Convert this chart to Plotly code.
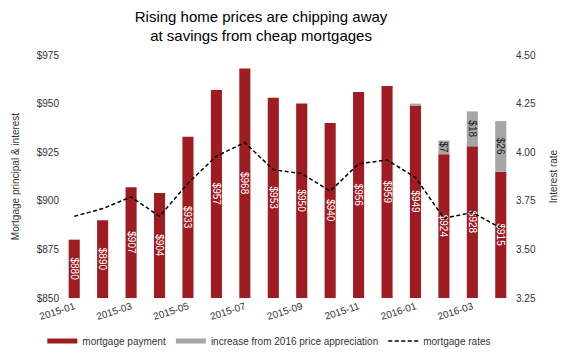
import plotly.graph_objects as go

months = ["2015-01", "2015-02", "2015-03", "2015-04", "2015-05", "2015-06", "2015-07", "2015-08",
          "2015-09", "2015-10", "2015-11", "2015-12", "2016-01", "2016-02", "2016-03", "2016-04"]
payment = [880, 890, 907, 904, 933, 957, 968, 953, 950, 940, 956, 959, 949, 924, 928, 915]
increase = [0, 0, 0, 0, 0, 0, 0, 0, 0, 0, 0, 0, 1, 7, 18, 26]
rates = [3.67, 3.71, 3.77, 3.67, 3.84, 3.98, 4.05, 3.91, 3.89, 3.80, 3.94, 3.96, 3.87, 3.66, 3.69, 3.61]
tick_labels = ["2015-01", "2015-03", "2015-05", "2015-07", "2015-09", "2015-11", "2016-01", "2016-03"]

Y_MIN, Y_MAX = 850, 975
RED = "#9f1c22"
GREY = "#a6a6a6"
FONT = "Liberation Sans, Arial, sans-serif"
DASH = "4px,2.5px"

fig = go.Figure()
fig.add_trace(go.Bar(
    x=months, y=[v - Y_MIN for v in payment], base=Y_MIN,
    marker=dict(color=RED, line=dict(width=0)),
    text=[f"${v}" for v in payment], textposition="inside", insidetextanchor="middle",
    textangle=90, textfont=dict(color="white", size=10, family=FONT),
    showlegend=False, name="mortgage payment"))
fig.add_trace(go.Bar(
    x=months, y=increase, base=payment, marker=dict(color=GREY, line=dict(width=0)),
    text=[f"${v}" if v >= 5 else "" for v in increase], textposition="inside",
    insidetextanchor="middle", textangle=90, textfont=dict(color="#222", size=10, family=FONT),
    showlegend=False, name="increase from 2016 price appreciation"))
fig.add_trace(go.Scatter(
    x=months, y=rates, mode="lines", yaxis="y2",
    line=dict(color="black", width=1.5, dash=DASH), showlegend=False, name="mortgage rates"))

# legend entries
fig.add_trace(go.Scatter(x=[None], y=[None], mode="lines", line=dict(color=RED, width=5),
                         name="mortgage payment"))
fig.add_trace(go.Scatter(x=[None], y=[None], mode="lines", line=dict(color=GREY, width=5),
                         name="increase from 2016 price appreciation"))
fig.add_trace(go.Scatter(x=[None], y=[None], mode="lines",
                         line=dict(color="black", width=1.5, dash=DASH), name="mortgage rates"))

fig.update_layout(
    width=570, height=356, barmode="overlay", bargap=0.61,
    plot_bgcolor="white", paper_bgcolor="white",
    margin=dict(l=60, r=55, t=55, b=58),
    font=dict(family=FONT, size=10, color="#333"),
    uniformtext=dict(minsize=10, mode="show"),
    title=dict(text="Rising home prices are chipping away<br>at savings from cheap mortgages",
               x=0.458, xanchor="center", y=0.939, yanchor="middle",
               font=dict(size=15, color="black", family=FONT)),
    xaxis=dict(type="category", tickvals=tick_labels, ticktext=tick_labels, tickangle=-18,
               showgrid=False, showline=False, ticks="", automargin=False,
               tickfont=dict(size=10, color="#333")),
    yaxis=dict(range=[Y_MIN, Y_MAX], tickvals=[850, 875, 900, 925, 950, 975],
               ticktext=["$850", "$875", "$900", "$925", "$950", "$975"],
               showgrid=False, zeroline=False, showline=False, ticks="", automargin=False,
               title=dict(text="Mortgage principal & interest", font=dict(size=10, color="#333"))),
    yaxis2=dict(range=[3.25, 4.5], tickvals=[3.25, 3.5, 3.75, 4.0, 4.25, 4.5],
                ticktext=["3.25", "3.50", "3.75", "4.00", "4.25", "4.50"],
                overlaying="y", side="right", showgrid=False, zeroline=False, showline=False,
                ticks="", automargin=False,
                title=dict(text="Interest rate", font=dict(size=10, color="#333"))),
    legend=dict(orientation="h", x=0.46, xanchor="center", yref="container", y=0.042,
                yanchor="middle", font=dict(size=10, color="#333"), itemwidth=30,
                tracegroupgap=0),
)

fig.write_html("out.html", config={"displayModeBar": False},
               post_script="document.body.style.margin='0';")
